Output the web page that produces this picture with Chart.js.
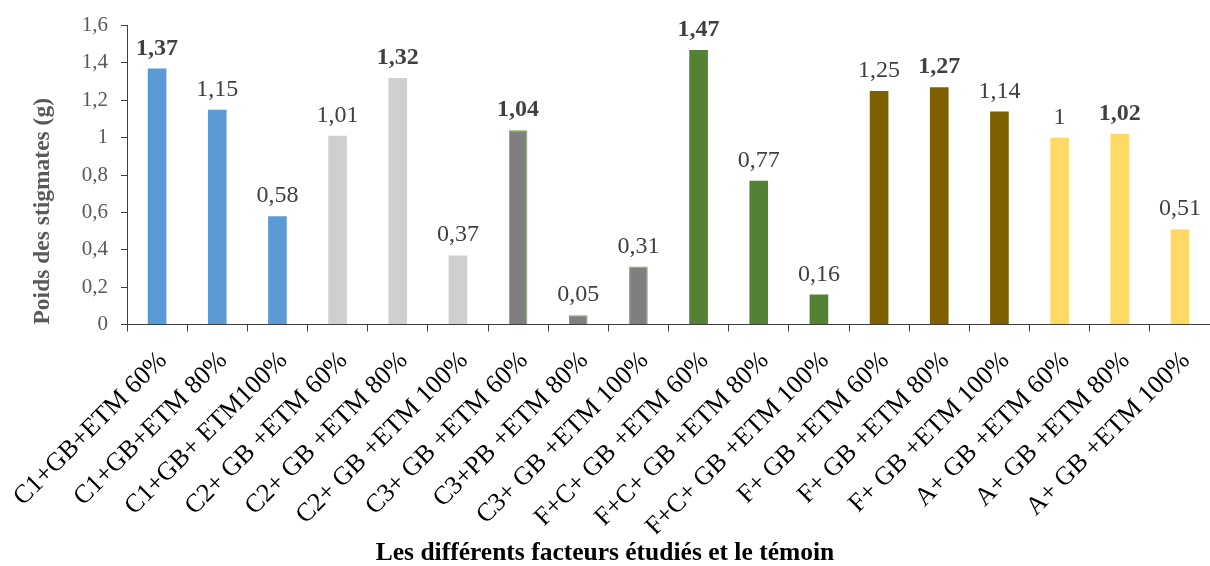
<!DOCTYPE html>
<html lang="fr">
<head>
<meta charset="utf-8">
<title>Poids des stigmates</title>
<script src="https://cdn.jsdelivr.net/npm/chart.js@4.4.1/dist/chart.umd.min.js"></script>
<style>
  html, body { margin: 0; padding: 0; background: #ffffff; }
  #wrap { width: 1210px; height: 566px; }
</style>
</head>
<body>
<div id="wrap"><canvas id="c" width="1210" height="566"></canvas></div>
<script>
// Treatments (x axis)
const categories = [
  'C1+GB+ETM 60%', 'C1+GB+ETM 80%', 'C1+GB+ ETM100%',
  'C2+ GB +ETM 60%', 'C2+ GB +ETM 80%', 'C2+ GB +ETM 100%',
  'C3+ GB +ETM 60%', 'C3+PB +ETM 80%', 'C3+ GB +ETM 100%',
  'F+C+ GB +ETM 60%', 'F+C+ GB +ETM 80%', 'F+C+ GB +ETM 100%',
  'F+ GB +ETM 60%', 'F+ GB +ETM 80%', 'F+ GB +ETM 100%',
  'A+ GB +ETM 60%', 'A+ GB +ETM 80%', 'A+ GB +ETM 100%'
];

// Stigma weight (g) per treatment
const weights = [1.37, 1.15, 0.58, 1.01, 1.32, 0.37, 1.04, 0.05, 0.31,
                 1.47, 0.77, 0.16, 1.25, 1.27, 1.14, 1.00, 1.02, 0.51];

// Values whose label is printed in bold (best of each group)
const boldLabels = [true, false, false, false, true, false, true, false, false,
                    true, false, false, false, true, false, false, true, false];

// Y axis ticks
const yTicks = [0, 0.2, 0.4, 0.6, 0.8, 1, 1.2, 1.4, 1.6];

// One colour per group of three treatments
const groupFill = ['#5B9BD5', '#D0CECE', '#7F7F7F', '#548235', '#7F6000', '#FFD966'];
const groupBorder = ['#5B9BD5', '#D0CECE', '#70AD47', '#548235', '#7F6000', '#FFD966'];

const SERIF = '"Liberation Serif", "Times New Roman", serif';
const fmt = v => String(Math.round(v * 100) / 100).replace('.', ',');

// Writes the value above each bar
const valueLabels = {
  id: 'valueLabels',
  afterDatasetsDraw(chart) {
    const ctx = chart.ctx;
    const meta = chart.getDatasetMeta(0);
    ctx.save();
    ctx.textAlign = 'center';
    ctx.textBaseline = 'alphabetic';
    meta.data.forEach((bar, i) => {
      ctx.font = (boldLabels[i] ? 'bold ' : '') + '24px ' + SERIF;
      ctx.fillStyle = '#404040';
      ctx.fillText(fmt(weights[i]), bar.x, bar.y - 14);
    });
    ctx.restore();
  }
};

new Chart(document.getElementById('c'), {
  type: 'bar',
  data: {
    labels: categories,
    datasets: [{
      data: weights,
      backgroundColor: weights.map((_, i) => groupFill[Math.floor(i / 3)]),
      borderColor: weights.map((_, i) => groupBorder[Math.floor(i / 3)]),
      borderWidth: weights.map((_, i) => Math.floor(i / 3) === 2 ? 1 : 0),
      barPercentage: 0.31,
      categoryPercentage: 1
    }]
  },
  options: {
    responsive: false,
    animation: false,
    devicePixelRatio: 1,
    layout: { padding: { top: 19, left: 0, right: 0, bottom: 0 } },
    plugins: {
      legend: { display: false },
      tooltip: { enabled: false },
      title: {
        display: true,
        position: 'bottom',
        text: 'Les différents facteurs étudiés et le témoin',
        color: '#000000',
        font: { family: SERIF, size: 25.5, weight: 'bold', lineHeight: 1 },
        padding: { top: 6, bottom: 0 }
      }
    },
    scales: {
      x: {
        grid: {
          display: true,
          offset: true,
          drawOnChartArea: false,
          drawTicks: true,
          tickLength: 7,
          tickColor: '#404040'
        },
        border: { display: true, color: '#404040', width: 1 },
        ticks: {
          autoSkip: false,
          minRotation: 45,
          maxRotation: 45,
          padding: 14,
          labelOffset: 6,
          color: '#000000',
          font: { family: SERIF, size: 26 }
        },
        afterFit(scale) {
          scale.height = 210;
          scale.paddingLeft = 0;
          scale.paddingRight = 0;
        }
      },
      y: {
        min: 0,
        max: 1.6,
        afterBuildTicks(scale) { scale.ticks = yTicks.map(v => ({ value: v })); },
        grid: {
          display: true,
          drawOnChartArea: false,
          drawTicks: true,
          tickLength: 6,
          tickColor: '#404040'
        },
        border: { display: true, color: '#404040', width: 1 },
        ticks: {
          padding: 13,
          color: '#595959',
          font: { family: SERIF, size: 21 },
          callback: v => fmt(v)
        },
        title: {
          display: true,
          text: 'Poids des stigmates (g)',
          align: 'start',
          color: '#595959',
          font: { family: SERIF, size: 23.5, weight: 'bold' },
          padding: { top: 29, bottom: 0 }
        },
        afterFit(scale) { scale.width = 127; }
      }
    }
  },
  plugins: [valueLabels]
});
</script>
</body>
</html>
